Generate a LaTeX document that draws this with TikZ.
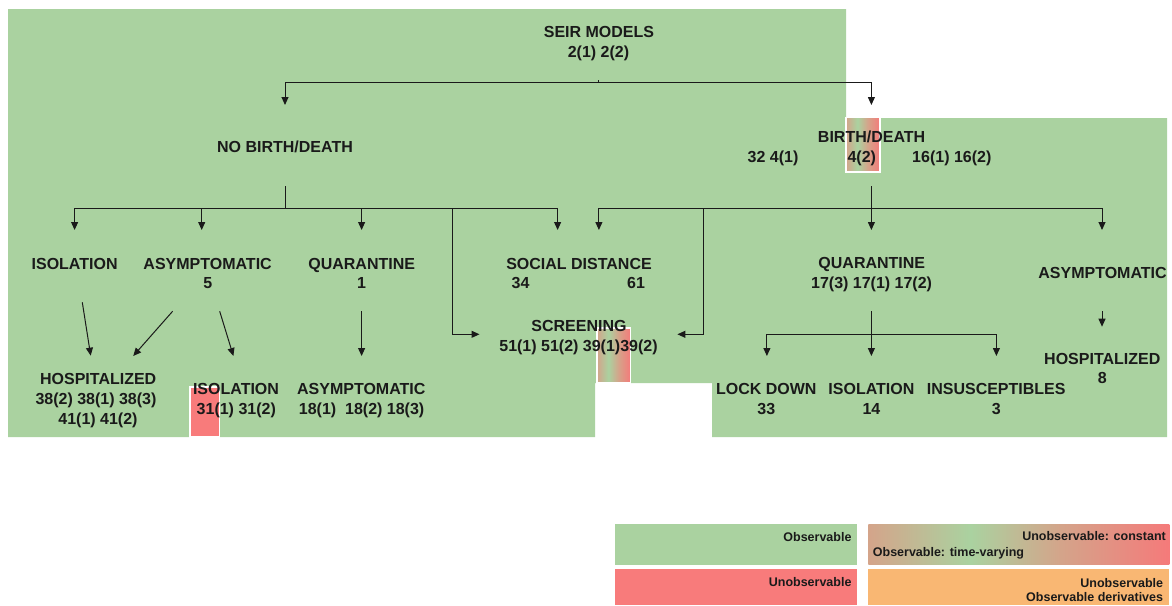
\documentclass[tikz,border=0pt]{standalone}
\usepackage{fontspec}
\setmainfont{Liberation Sans}
\usetikzlibrary{arrows.meta}
\definecolor{obsgreen}{HTML}{AAD2A0}
\definecolor{unobsred}{HTML}{F87B7B}
\definecolor{derivorange}{HTML}{F9B773}
\definecolor{gradtan}{HTML}{D4A48A}
\definecolor{gradred}{HTML}{F57A7A}
\definecolor{inkc}{HTML}{1A1A1A}
\pgfdeclarehorizontalshading{mixgrad}{100bp}{color(0bp)=(gradtan); color(25bp)=(gradtan); color(42bp)=(obsgreen); color(57bp)=(gradtan); color(75bp)=(gradred); color(100bp)=(gradred)}
\begin{document}
\begin{tikzpicture}[x=1pt,y=-1pt,
  every node/.style={font=\bfseries\fontsize{16}{19}\selectfont, text=inkc, inner sep=0pt},
  lbl/.style={anchor=base},
  leg/.style={font=\bfseries\fontsize{12.5}{15}\selectfont},
  link/.style={draw=inkc, line width=1pt},
  arr/.style={link, -{Triangle[width=7pt,length=8pt]}},
  cellbox/.style={draw=white, line width=1.5pt}]
\useasboundingbox (0,0) rectangle (1172,605);
% background regions
\fill[obsgreen] (8,9) -- (846,9) -- (846,118) -- (1167,118) -- (1167,437) -- (712,437) -- (712,383) -- (595,383) -- (595,437) -- (8,437) -- cycle;
\shadedraw[cellbox, shading=mixgrad] (846,117.5) rectangle (880,172);
\shadedraw[cellbox, shading=mixgrad] (597,328) rectangle (630.5,383);
\filldraw[cellbox, fill=unobsred] (190,387) rectangle (219.5,437);
% texts
\node[lbl] (seir) at (599,37.5) {SEIR MODELS};
\node[lbl] (seirn) at (598.5,57) {2(1) 2(2)};
\node[lbl] (nobd) at (285,152.7) {NO BIRTH/DEATH};
\node[lbl] (bd) at (871.6,142.3) {BIRTH/DEATH};
\node[lbl] (bda) at (773,162.3) {32 4(1)};
\node[lbl] (bdb) at (861.8,162.3) {4(2)};
\node[lbl] (bdc) at (951.8,162.3) {16(1) 16(2)};
\node[lbl] (isoa) at (74.6,269) {ISOLATION};
\node[lbl] (asya) at (207.6,269) {ASYMPTOMATIC};
\node[lbl] (asyan) at (207.8,288.5) {5};
\node[lbl] (quara) at (361.7,269) {QUARANTINE};
\node[lbl] (quaran) at (361.6,288.5) {1};
\node[lbl] (sd) at (579,269) {SOCIAL DISTANCE};
\node[lbl] (sda) at (520.5,288.5) {34};
\node[lbl] (sdb) at (636,288.5) {61};
\node[lbl] (quarb) at (871.8,268.5) {QUARANTINE};
\node[lbl] (quarbn) at (871.6,288) {17(3) 17(1) 17(2)};
\node[lbl] (asyb) at (1102.5,278.3) {ASYMPTOMATIC};
\node[lbl] (scr) at (579,331) {SCREENING};
\node[lbl] (scrn) at (578.5,351) {51(1) 51(2) 39(1)39(2)};
\node[lbl] (hospa) at (98.2,384.3) {HOSPITALIZED};
\node[lbl] (hospan) at (96,404.5) {38(2) 38(1) 38(3)};
\node[lbl] (hospam) at (98,424.3) {41(1) 41(2)};
\node[lbl] (isob) at (236,394.3) {ISOLATION};
\node[lbl] (isobn) at (236.3,414.3) {31(1) 31(2)};
\node[lbl] (asyc) at (361.3,394.3) {ASYMPTOMATIC};
\node[lbl] (asycn) at (361.6,414.3) {18(1)\ \ 18(2) 18(3)};
\node[lbl] (lock) at (766.3,394.3) {LOCK DOWN};
\node[lbl] (lockn) at (766.3,414) {33};
\node[lbl] (isoc) at (871.4,394.3) {ISOLATION};
\node[lbl] (isocn) at (871.4,414) {14};
\node[lbl] (ins) at (996.2,394.3) {INSUSCEPTIBLES};
\node[lbl] (insn) at (996.2,414) {3};
\node[lbl] (hospb) at (1102.3,364) {HOSPITALIZED};
\node[lbl] (hospbn) at (1102.3,383.5) {8};
% top connectors
\coordinate (topL) at (285,82.7);
\coordinate (topR) at (871.4,82.7);
\coordinate (topM) at (598.9,82.7);
\coordinate (topMtick) at (598.9,80);
\coordinate (nobdTip) at (285,105);
\coordinate (bdTip) at (871.4,105);
\draw[arr] (topR) -- (topL) -- (nobdTip);
\draw[arr] (topL) -- (topR) -- (bdTip);
\draw[link] (topM) -- (topMtick);
% left branch
\coordinate (lStemTop) at (285,186);
\coordinate (lStemBot) at (285,208.3);
\coordinate (lA) at (74.6,208.3);
\coordinate (lB) at (201.7,208.3);
\coordinate (lC) at (361.6,208.3);
\coordinate (lD) at (557.6,208.3);
\coordinate (lS) at (452.7,208.3);
\coordinate (lAt) at (74.6,230);
\coordinate (lBt) at (201.7,230);
\coordinate (lCt) at (361.6,230);
\coordinate (lDt) at (557.6,230);
\coordinate (lSc) at (452.7,334.3);
\coordinate (lSt) at (479.5,334.3);
\draw[link] (lStemTop) -- (lStemBot);
\draw[arr] (lD) -- (lA) -- (lAt);
\draw[arr] (lA) -- (lD) -- (lDt);
\draw[arr] (lB) -- (lBt);
\draw[arr] (lC) -- (lCt);
\draw[arr] (lS) -- (lSc) -- (lSt);
% right branch
\coordinate (rStemTop) at (871.4,186);
\coordinate (rStemBot) at (871.4,208.3);
\coordinate (rA) at (598.9,208.3);
\coordinate (rC) at (1102,208.3);
\coordinate (rS) at (703.8,208.3);
\coordinate (rAt) at (598.9,230);
\coordinate (rBt) at (871.4,230);
\coordinate (rCt) at (1102,230);
\coordinate (rSc) at (703.8,334.3);
\coordinate (rSt) at (677.4,334.3);
\draw[arr] (rStemTop) -- (rBt);
\draw[arr] (rC) -- (rA) -- (rAt);
\draw[arr] (rA) -- (rC) -- (rCt);
\draw[arr] (rS) -- (rSc) -- (rSt);
% level 2 to level 3
\coordinate (isoaOut) at (82.3,302.3);
\coordinate (hospaInA) at (90.7,355.7);
\coordinate (asyaOutL) at (172.6,311.3);
\coordinate (hospaInB) at (133.2,356);
\coordinate (asyaOutR) at (219.7,311.3);
\coordinate (isobIn) at (233.4,356);
\coordinate (quaraOut) at (361.6,311.3);
\coordinate (asycIn) at (361.6,356);
\draw[arr] (isoaOut) -- (hospaInA);
\draw[arr] (asyaOutL) -- (hospaInB);
\draw[arr] (asyaOutR) -- (isobIn);
\draw[arr] (quaraOut) -- (asycIn);
\coordinate (quarbOut) at (871.4,311.3);
\coordinate (isocIn) at (871.4,356);
\coordinate (qL) at (766.9,334.3);
\coordinate (qR) at (996.4,334.3);
\coordinate (lockIn) at (766.9,356);
\coordinate (insIn) at (996.4,356);
\draw[arr] (quarbOut) -- (isocIn);
\draw[arr] (qR) -- (qL) -- (lockIn);
\draw[arr] (qL) -- (qR) -- (insIn);
\coordinate (asybOut) at (1102,311);
\coordinate (hospbIn) at (1102,326.7);
\draw[arr] (asybOut) -- (hospbIn);
% legend
\fill[obsgreen] (615,524) rectangle (856.7,565);
\fill[unobsred] (615,569) rectangle (856.7,605);
\shade[shading=mixgrad] (868.3,524) rectangle (1169.3,564.5);
\fill[derivorange] (868.3,569.3) rectangle (1169.3,605);
\node[leg, anchor=base east] (lobs) at (851.7,541) {Observable};
\node[leg, anchor=base east] (lunobs) at (851.7,586.7) {Unobservable};
\node[leg, anchor=base east] (lconst) at (1166,540.7) {Unobservable: constant};
\node[leg, anchor=base west] (ltime) at (872.7,556.7) {Observable: time-varying};
\node[leg, anchor=base east] (lunobsb) at (1163.3,587) {Unobservable};
\node[leg, anchor=base east] (lderiv) at (1163.3,601.7) {Observable derivatives};
\end{tikzpicture}
\end{document}
